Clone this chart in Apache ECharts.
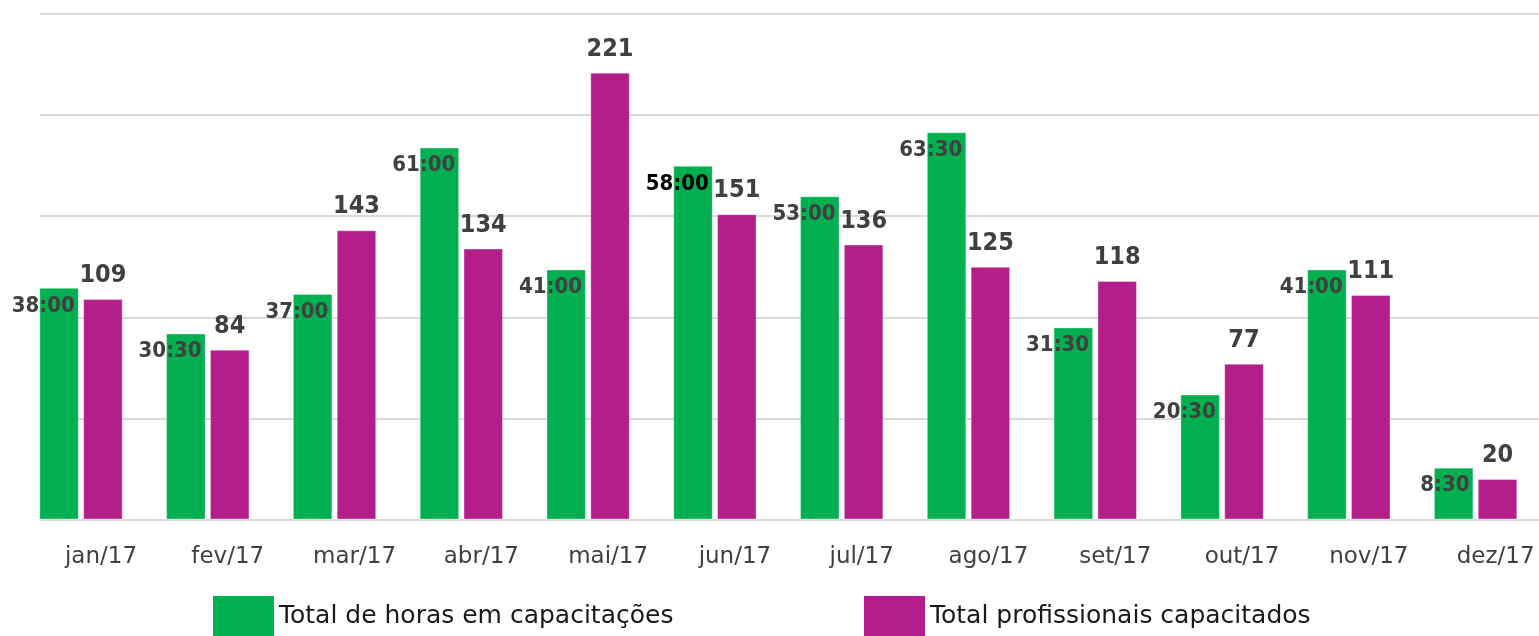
<!DOCTYPE html>
<html>
<head>
<meta charset="utf-8">
<script src="https://cdn.jsdelivr.net/npm/echarts@6/dist/echarts.min.js"></script>
<style>
html,body{margin:0;padding:0;background:#fff;}
#chart{width:1539px;height:636px;}
</style>
</head>
<body>
<div id="chart"></div>
<script>
const categories = ['jan/17','fev/17','mar/17','abr/17','mai/17','jun/17','jul/17','ago/17','set/17','out/17','nov/17','dez/17'];
const hoursSeriesName = 'Total de horas em capacitações';
const peopleSeriesName = 'Total profissionais capacitados';
const hours = [38, 30.5, 37, 61, 41, 58, 53, 63.5, 31.5, 20.5, 41, 8.5];
const people = [109, 84, 143, 134, 221, 151, 136, 125, 118, 77, 111, 20];
const peopleTicks = [0, 50, 100, 150, 200, 250];

const FONT = "'DejaVu Sans', sans-serif";
const FONT_C = "'DejaVu Sans Condensed', 'DejaVu Sans', sans-serif";
const GREEN = '#00B050';
const MAGENTA = '#B31E8A';

function fmtHours(v) {
  const h = Math.floor(v);
  const m = Math.round((v - h) * 60);
  return h + ':' + (m < 10 ? '0' + m : m);
}

const chart = echarts.init(document.getElementById('chart'), null, {renderer: 'canvas'});
const gridTop = 14, gridBottom = 116.5;
chart.setOption({
  animation: false,
  backgroundColor: '#fff',
  textStyle: {fontFamily: FONT},
  grid: [
    {left: 17.6, width: 1521.6, top: gridTop, bottom: gridBottom},
    {left: 40, right: 0, top: gridTop, bottom: gridBottom}
  ],
  legend: [
    {
      data: [hoursSeriesName], left: 213, top: 596, padding: 0,
      itemWidth: 61, itemHeight: 40, icon: 'rect',
      itemStyle: {borderWidth: 0},
      textStyle: {fontFamily: FONT, fontSize: 25, color: '#1a1a1a'}
    },
    {
      data: [peopleSeriesName], left: 864, top: 596, padding: 0,
      itemWidth: 61, itemHeight: 40, icon: 'rect',
      itemStyle: {borderWidth: 0},
      textStyle: {fontFamily: FONT, fontSize: 25, color: '#1a1a1a'}
    }
  ],
  xAxis: [
    {
      type: 'category', gridIndex: 0, data: categories,
      axisLine: {show: false}, axisTick: {show: false},
      axisLabel: {fontFamily: FONT, fontSize: 23, color: '#404040', margin: 26, padding: [0, 0, 0, 40]}
    },
    {type: 'value', gridIndex: 1, show: false, min: 0, max: 1}
  ],
  yAxis: [
    {type: 'value', gridIndex: 0, min: peopleTicks[0], max: peopleTicks[peopleTicks.length - 1], interval: 50, show: false},
    {type: 'value', gridIndex: 0, min: 0, max: 82.9, show: false},
    {
      type: 'value', gridIndex: 1, min: peopleTicks[0], max: peopleTicks[peopleTicks.length - 1], interval: 50,
      axisLabel: {show: false}, axisLine: {show: false}, axisTick: {show: false},
      splitLine: {show: true, lineStyle: {color: '#d9d9d9', width: 2}}
    }
  ],
  series: [
    {
      name: hoursSeriesName, type: 'bar', xAxisIndex: 0, yAxisIndex: 1,
      barWidth: 39.5, barGap: '11%',
      itemStyle: {color: GREEN, borderColor: 'rgba(255,255,255,0.35)', borderWidth: 1},
      data: hours.map((v, i) => i === 5 ? {value: v, label: {color: '#000'}} : v),
      label: {
        show: true, position: 'insideTopRight', distance: 4, offset: [0, 3],
        fontFamily: FONT_C, fontWeight: 'bold', fontSize: 22, color: '#404040',
        formatter: p => fmtHours(p.value)
      },
      z: 3
    },
    {
      name: peopleSeriesName, type: 'bar', xAxisIndex: 0, yAxisIndex: 0,
      barWidth: 39.5, barGap: '11%',
      itemStyle: {color: MAGENTA, borderColor: 'rgba(255,255,255,0.35)', borderWidth: 1},
      data: people,
      label: {
        show: true, position: 'top', distance: 11,
        fontFamily: FONT_C, fontWeight: 'bold', fontSize: 25, color: '#404040'
      },
      z: 2
    }
  ]
});
</script>
</body>
</html>
